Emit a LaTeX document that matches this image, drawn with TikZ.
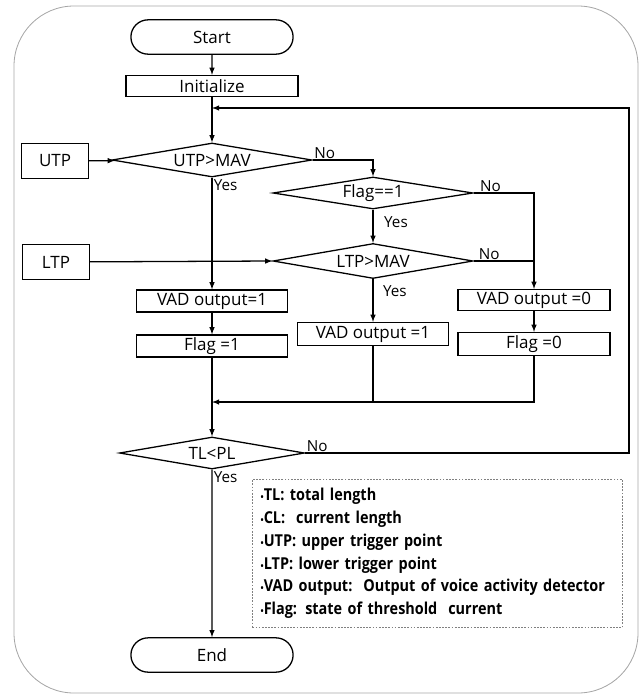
\documentclass[tikz,border=0pt]{standalone}
\usepackage{fontspec}
\setmainfont{Open Sans}
\newfontfamily\lgdfont{Open Sans}[FakeStretch=0.88]
\usepackage{tikz}
\usetikzlibrary{shapes,arrows}
\tikzset{
	term/.style     = {draw, rounded rectangle, minimum width = 5.1cm,
		minimum height = 1.03cm},
	proc/.style     = {draw, rectangle, minimum width = 4.53cm,
		minimum height = 0.66cm, inner sep = 0pt},
	src/.style      = {draw, rectangle, minimum width = 2cm,
		minimum height = 1.05cm},
	dec/.style      = {draw, diamond, aspect = 6, inner sep = 0pt,
		minimum width = 6cm, minimum height = 1.02cm},
	lbl/.style      = {inner sep = 1pt, font = \fontsize{13}{15}\selectfont},
	legend/.style   = {draw, gray, dashed, dash pattern = on 1.5pt off 1.2pt,
		line width = 0.6pt, text = black, align = left, anchor = north west,
		minimum width = 11.04cm, minimum height = 4.44cm,
		text width = 10.6cm, inner xsep = 0.25cm}
}
\newcommand{\itm}{{\footnotesize\textbullet}}

\begin{document}
\begin{tikzpicture}[x=0.03cm, y=-0.03cm, line width=1.1pt, >=latex,
	font=\fontsize{14.5}{16}\selectfont]
	\useasboundingbox (0,0) rectangle (643,696);
	% outer frame
	\draw[gray!70, line width=0.7pt, rounded corners=1.8cm] (14,6) rectangle (638,693);
	
	\draw
	% main column
	node at (212,37)[term] (start) {Start}
	node at (212,86)[proc, minimum width = 5.16cm, minimum height = 0.63cm] (init) {Initialize}
	node at (212,160)[dec] (utpdec) {UTP>MAV}
	node at (55,161)[src] (utp) {UTP}
	node at (212,301)[proc] (vadone) {VAD output=1}
	node at (212,346)[proc] (flagone) {Flag =1}
	node at (212,453)[dec, minimum width = 5.55cm, minimum height = 0.96cm] (tldec) {TL<PL}
	node at (212,655)[term] (stop) {End}
	% middle column
	node at (373,193)[dec, minimum height = 0.96cm] (flagdec) {Flag==1}
	node at (56,262)[src] (ltp) {LTP}
	node at (373,261)[dec, minimum height = 1.05cm] (ltpdec) {LTP>MAV}
	node at (373,334)[proc, minimum height = 0.69cm] (vadmid) {VAD output =1}
	% right column
	node at (534,300)[proc, minimum width = 4.56cm, minimum height = 0.63cm] (vadzero) {VAD output =0}
	node at (534,344)[proc, minimum width = 4.56cm, minimum height = 0.69cm] (flagzero) {Flag =0};
	
	\coordinate (loop) at (212,108);
	\coordinate (back) at (629,108);
	\coordinate (merge) at (212,402);
	
	\draw[->](start) -- (init);
	\draw[->](init) -- (utpdec);
	\draw[->](utp) -- (utpdec);
	\draw[->](utpdec.east) -| (flagdec.north);
	\draw[->](utpdec.south) -- (vadone);
	\draw[->](vadone) -- (flagone);
	\draw[->](flagone) -- (tldec);
	\draw[->](flagdec.south) -- (ltpdec.north);
	\draw[->](flagdec.east) -| (vadzero.north);
	\draw[-](ltpdec.east) -- (ltpdec.east -| vadzero.north);
	\draw[->](ltp) -- (ltpdec.west);
	\draw[->](ltpdec.south) -- (vadmid);
	\draw[->](vadzero) -- (flagzero);
	\draw[->](flagzero.south) |- (merge);
	\draw[-](vadmid.south) -- (vadmid.south |- merge);
	\draw[->](tldec.east) -| (back) -- (loop);
	\draw[->](tldec.south) -- (stop);
	
	% yes / no labels
	\node[lbl, anchor=south west] (no1) at (utpdec.east) {No};
	\node[lbl, anchor=north west] (yes1) at (utpdec.south) {Yes};
	\node[lbl, anchor=south west, xshift=4pt] (no2) at (flagdec.east) {No};
	\node[lbl, anchor=north west, xshift=8pt, yshift=-4pt] (yes2) at (flagdec.south) {Yes};
	\node[lbl, anchor=south west, xshift=3pt] (no3) at (ltpdec.east) {No};
	\node[lbl, anchor=north west, xshift=7pt, yshift=-4pt] (yes3) at (ltpdec.south) {Yes};
	\node[lbl, anchor=south west] (no4) at (tldec.east) {No};
	\node[lbl, anchor=north west] (yes4) at (tldec.south) {Yes};
	
	% legend
	\node[legend, font=\lgdfont\bfseries\fontsize{14}{19.5}\selectfont] (lgd) at (252,479) {%
		\itm TL: total length\\
		\itm CL:\ \ current length\\
		\itm UTP: upper trigger point\\
		\itm LTP: lower trigger point\\
		\itm VAD output:\ \ Output of voice activity detector\\
		\itm Flag: state of threshold\ \ current};
	
\end{tikzpicture}
\end{document}
